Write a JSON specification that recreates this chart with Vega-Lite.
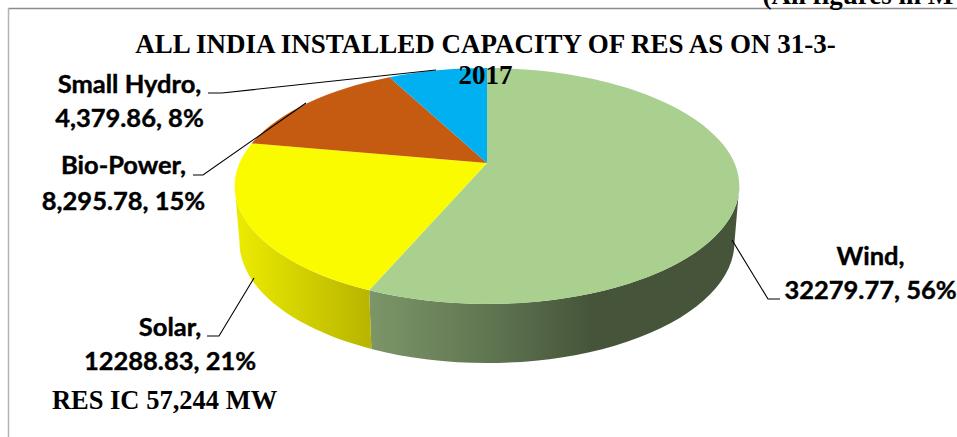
{
  "$schema": "https://vega.github.io/schema/vega-lite/v6.json",
  "width": 957,
  "height": 437,
  "autosize": "none",
  "padding": 0,
  "background": "white",
  "config": {"view": {"stroke": null}},
  "layer": [
    {
      "data": {"values": [{"part": "frame"}]},
      "layer": [
        {"mark": {"type": "point", "size": 4, "filled": false, "opacity": 1, "stroke": "#b4b4b4", "strokeWidth": 1.5, "shape": "M-470 218.5L-470 -210"}},
        {"mark": {"type": "point", "size": 4, "filled": false, "opacity": 1, "stroke": "#8c8c8c", "strokeWidth": 1.5, "shape": "M-470 -210L478.5 -210"}}
      ]
    },
    {
      "data": {
        "values": [
          {"slice": "Wind", "value": 32279.77, "share": 56, "label": ["Wind,", "32279.77, 56%"]},
          {"slice": "Solar", "value": 12288.83, "share": 21, "label": ["Solar,", "12288.83, 21%"]},
          {"slice": "Bio-Power", "value": 8295.78, "share": 15, "label": ["Bio-Power,", "8,295.78, 15%"]},
          {"slice": "Small Hydro", "value": 4379.86, "share": 8, "label": ["Small Hydro,", "4,379.86, 8%"]}
        ]
      },
      "resolve": {"scale": {"shape": "independent"}},
      "layer": [
        {
          "transform": [{"filter": "datum.slice==='Wind'"}],
          "mark": {
            "type": "point", "size": 4, "filled": true, "opacity": 1, "strokeWidth": 0,
            "shape": "M-109.35 71.83A252.3 118 0 0 0 260.8 -32.5L256 23.5A247.5 121 0 0 1 -107.11 130.48Z",
            "fill": {
              "gradient": "linear", "x1": 0, "y1": 0, "x2": 1, "y2": 0,
              "stops": [
                {"offset": 0, "color": "#7c9668"},
                {"offset": 0.3, "color": "#627853"},
                {"offset": 0.6, "color": "#46553a"},
                {"offset": 1, "color": "#46553a"}
              ]
            }
          }
        },
        {
          "transform": [{"filter": "datum.slice==='Solar'"}],
          "mark": {
            "type": "point", "size": 4, "filled": true, "opacity": 1, "strokeWidth": 0,
            "shape": "M-109.35 71.83A252.3 118 0 0 1 -243.8 -32.5L-239 23.5A247.5 121 0 0 0 -107.11 130.48Z",
            "fill": {
              "gradient": "linear", "x1": 0, "y1": 0, "x2": 1, "y2": 0,
              "stops": [
                {"offset": 0, "color": "#ecec00"},
                {"offset": 1, "color": "#b8b400"}
              ]
            }
          }
        },
        {
          "mark": {"type": "point", "size": 4, "filled": true, "opacity": 1, "strokeWidth": 0},
          "encoding": {
            "shape": {
              "field": "slice", "type": "nominal", "legend": null,
              "scale": {
                "domain": ["Wind", "Solar", "Bio-Power", "Small Hydro"],
                "range": [
                  "M8.5 -55.5L8.5 -150.5A252.3 118 0 1 1 -109.35 71.83Z",
                  "M8.5 -55.5L-109.35 71.83A252.3 118 0 0 1 -226.83 -75.08Z",
                  "M8.5 -55.5L-226.83 -75.08A252.3 118 0 0 1 -89.07 -141.3Z",
                  "M8.5 -55.5L-89.07 -141.3A252.3 118 0 0 1 8.5 -150.5Z"
                ]
              }
            },
            "color": {
              "field": "slice", "type": "nominal", "legend": null,
              "scale": {
                "domain": ["Wind", "Solar", "Bio-Power", "Small Hydro"],
                "range": ["#a9d08e", "#fbfb00", "#c55a11", "#00b0f0"]
              }
            }
          }
        },
        {
          "mark": {"type": "point", "size": 4, "filled": false, "opacity": 1, "stroke": "#000000", "strokeWidth": 1.1},
          "encoding": {
            "shape": {
              "field": "slice", "type": "nominal", "legend": null,
              "scale": {
                "domain": ["Wind", "Solar", "Bio-Power", "Small Hydro"],
                "range": [
                  "M253.5 21.5L289.5 80.5L301.5 80.5",
                  "M-271.5 117.5L-259.5 117.5L-224.5 59.5",
                  "M-285.5 -43.5L-275.5 -43.5L-172.5 -115.5",
                  "M-270.5 -125.5L-256.5 -125.5L-42.5 -148.5"
                ]
              }
            }
          }
        },
        {
          "transform": [{"filter": "datum.slice==='Wind'"}],
          "mark": {"type": "text", "font": "Lato", "fontWeight": "bold", "fontSize": 25.5, "align": "center", "baseline": "alphabetic", "lineHeight": 33.5, "dx": 392, "dy": 46.5, "color": "#000000", "stroke": "#000000", "strokeWidth": 0.4},
          "encoding": {"text": {"field": "label"}}
        },
        {
          "transform": [{"filter": "datum.slice==='Solar'"}],
          "mark": {"type": "text", "font": "Lato", "fontWeight": "bold", "fontSize": 25.5, "align": "center", "baseline": "alphabetic", "lineHeight": 34, "dx": -308.5, "dy": 117.5, "color": "#000000", "stroke": "#000000", "strokeWidth": 0.4},
          "encoding": {"text": {"field": "label"}}
        },
        {
          "transform": [{"filter": "datum.slice==='Bio-Power'"}],
          "mark": {"type": "text", "font": "Lato", "fontWeight": "bold", "fontSize": 25.5, "align": "center", "baseline": "alphabetic", "lineHeight": 35.5, "dx": -355, "dy": -44.5, "color": "#000000", "stroke": "#000000", "strokeWidth": 0.4},
          "encoding": {"text": {"field": "label"}}
        },
        {
          "transform": [{"filter": "datum.slice==='Small Hydro'"}],
          "mark": {"type": "text", "font": "Lato", "fontWeight": "bold", "fontSize": 25.5, "align": "center", "baseline": "alphabetic", "lineHeight": 34, "dx": -349, "dy": -126, "color": "#000000", "stroke": "#000000", "strokeWidth": 0.4},
          "encoding": {"text": {"field": "label"}}
        }
      ]
    },
    {
      "data": {"values": [{"note": ["ALL INDIA INSTALLED CAPACITY OF RES AS ON 31-3-", "2017"]}]},
      "mark": {"type": "text", "font": "Liberation Serif", "fontWeight": "bold", "fontSize": 27, "align": "center", "baseline": "alphabetic", "lineHeight": 31.5, "dx": 7, "dy": -166, "color": "#000000"},
      "encoding": {"text": {"field": "note"}}
    },
    {
      "data": {"values": [{"note": "RES IC 57,244 MW"}]},
      "mark": {"type": "text", "font": "Liberation Serif", "fontWeight": "bold", "fontSize": 26.5, "align": "center", "baseline": "alphabetic", "dx": -314, "dy": 190, "color": "#000000"},
      "encoding": {"text": {"field": "note"}}
    },
    {
      "data": {"values": [{"note": "(All figures in MW)"}]},
      "mark": {"type": "text", "font": "Liberation Serif", "fontWeight": "bold", "fontSize": 27, "align": "left", "baseline": "alphabetic", "dx": 284, "dy": -214.5, "color": "#000000"},
      "encoding": {"text": {"field": "note"}}
    }
  ]
}
